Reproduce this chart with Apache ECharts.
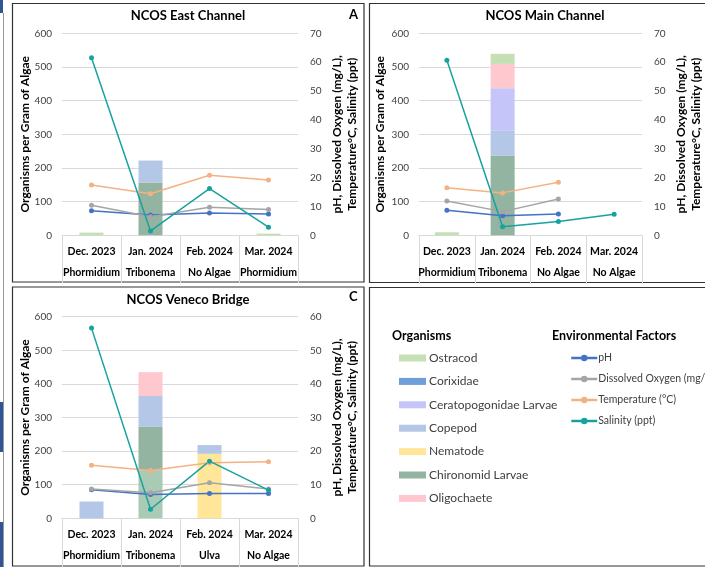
<!DOCTYPE html>
<html><head><meta charset="utf-8">
<script src="https://cdn.jsdelivr.net/npm/echarts@6/dist/echarts.min.js"></script>
<style>html,body{margin:0;padding:0;background:#fff}#c{width:705px;height:567px}</style>
</head><body><div id="c"></div>
<script>
const months = ['Dec. 2023','Jan. 2024','Feb. 2024','Mar. 2024'];
const algaeEast = ['Phormidium','Tribonema','No Algae','Phormidium'];
const algaeMain = ['Phormidium','Tribonema','No Algae','No Algae'];
const algaeVeneco = ['Phormidium','Tribonema','Ulva','No Algae'];

const leftTicks = [0,100,200,300,400,500,600];

// NCOS East Channel
const eastOstracod = [8,0,0,5];
const eastCopepod = [0,65,0,0];
const eastChironomid = [0,157,0,0];
const eastPH = [8.5,7.0,7.7,7.4];
const eastDO = [10.4,6.4,9.7,8.9];
const eastTemp = [17.4,14.4,20.8,19.2];
const eastSal = [61.5,1.5,16.2,2.8];

// NCOS Main Channel
const mainOstracod = [9,30,0,0];
const mainChironomid = [0,237,0,0];
const mainCopepod = [0,75,0,0];
const mainCerato = [0,125,0,0];
const mainOligochaete = [0,72,0,0];
const mainPH = [8.7,6.8,7.4,null];
const mainDO = [11.9,8.2,12.6,null];
const mainTemp = [16.5,14.7,18.4,null];
const mainSal = [60.7,3.0,4.8,7.3];

// NCOS Veneco Bridge
const venOstracod = [0,142,0,0];
const venNematode = [0,0,192,0];
const venChironomid = [0,130,0,0];
const venCopepod = [50,92,26,0];
const venOligochaete = [0,71,0,0];
const venPH = [8.5,7.1,7.4,7.4];
const venDO = [8.7,7.6,10.6,8.7];
const venTemp = [15.8,14.2,16.5,16.8];
const venSal = [56.6,2.7,17.0,8.4];

const organisms = ['Ostracod','Corixidae','Ceratopogonidae Larvae','Copepod','Nematode','Chironomid Larvae','Oligochaete'];
const factors = ['pH','Dissolved Oxygen (mg/L)','Temperature (°C)','Salinity (ppt)'];

const orgColor = {
  'Ostracod':'#c5e0b4','Corixidae':'#6d9fd8','Ceratopogonidae Larvae':'#c5c5fa',
  'Copepod':'#b4c7e7','Nematode':'#ffe699','Chironomid Larvae':'#93b4a0','Oligochaete':'#ffc7ce'
};
const facColor = {'pH':'#4472c4','Dissolved Oxygen (mg/L)':'#a5a5a5','Temperature (°C)':'#f4b183','Salinity (ppt)':'#17a2a0'};

const FONT = 'Lato';
const grids = [
  {left:62, top:33.3, width:236, height:202},
  {left:419, top:33.3, width:235, height:202},
  {left:62, top:316.7, width:236, height:201.6}
];
const algaeSets = [algaeEast, algaeMain, algaeVeneco];
const rightMax = [70,70,60];

const xAxes = grids.map((g,i)=>({
  type:'category', gridIndex:i, data:months,
  axisLine:{lineStyle:{color:'#d9d9d9'}},
  axisTick:{show:true, length:i===2?49:48, alignWithLabel:false, lineStyle:{color:'#d9d9d9'}},
  axisLabel:{
    margin:6, interval:0,
    formatter:(v,idx)=>'{a|'+v+'}\n{a|'+algaeSets[i][idx]+'}',
    rich:{a:{fontFamily:FONT,fontWeight:'bold',fontSize:10.5,color:'#000',lineHeight:21}}
  }
}));
const rightName = 'pH, Dissolved Oxygen (mg/L),\nTemperature°C, Salinity (ppt)';
const yAxes = [];
grids.forEach((g,i)=>{
  yAxes.push({
    type:'value', gridIndex:i, min:0, max:600, interval:100, position:'left',
    name:'Organisms per Gram of Algae', nameLocation:'middle', nameRotate:90, nameGap:i===1?33:28,
    nameTextStyle:{fontFamily:FONT,fontWeight:'bold',fontSize:12,color:'#000'},
    axisLabel:{fontFamily:FONT,fontSize:10,color:'#404040',margin:10},
    splitLine:{lineStyle:{color:'#d9d9d9'}}, axisLine:{show:false}, axisTick:{show:false}
  });
  yAxes.push({
    type:'value', gridIndex:i, min:0, max:rightMax[i], interval:10, position:'right',
    name:rightName, nameLocation:'middle', nameRotate:90, nameGap:32,
    nameTextStyle:{fontFamily:FONT,fontWeight:'bold',fontSize:12,color:'#000',lineHeight:15},
    axisLabel:{fontFamily:FONT,fontSize:10,color:'#404040',margin:12},
    splitLine:{show:false}, axisLine:{show:false}, axisTick:{show:false}
  });
});

function bar(name, data, i, color){
  return {name, type:'bar', stack:'s'+i, xAxisIndex:i, yAxisIndex:2*i, data, barWidth:24,
    itemStyle:{color: color || orgColor[name]}, emphasis:{disabled:true}};
}
function line(name, data, i){
  return {name, type:'line', xAxisIndex:i, yAxisIndex:2*i+1, data, symbol:'circle', symbolSize:5,
    lineStyle:{width:1.5,color:facColor[name]}, itemStyle:{color:facColor[name]}, emphasis:{disabled:true}, z:5};
}

const series = [
  bar('Chironomid Larvae', eastChironomid, 0), bar('Copepod', eastCopepod, 0), bar('Ostracod', eastOstracod, 0),
  bar('Corixidae', [null,null,null,null], 0), bar('Ceratopogonidae Larvae',[null,null,null,null],0),
  bar('Nematode',[null,null,null,null],0), bar('Oligochaete',[null,null,null,null],0),
  line('pH', eastPH, 0), line('Dissolved Oxygen (mg/L)', eastDO, 0), line('Temperature (°C)', eastTemp, 0), line('Salinity (ppt)', eastSal, 0),

  bar('Chironomid Larvae', mainChironomid, 1), bar('Copepod', mainCopepod, 1), bar('Ceratopogonidae Larvae', mainCerato, 1),
  bar('Oligochaete', mainOligochaete, 1), bar('Ostracod', mainOstracod, 1),
  line('pH', mainPH, 1), line('Dissolved Oxygen (mg/L)', mainDO, 1), line('Temperature (°C)', mainTemp, 1), line('Salinity (ppt)', mainSal, 1),

  bar('Ostracod', venOstracod, 2, '#a9cab4'), bar('Nematode', venNematode, 2), bar('Chironomid Larvae', venChironomid, 2),
  bar('Copepod', venCopepod, 2), bar('Oligochaete', venOligochaete, 2),
  line('pH', venPH, 2), line('Dissolved Oxygen (mg/L)', venDO, 2), line('Temperature (°C)', venTemp, 2), line('Salinity (ppt)', venSal, 2)
];

const titleStyle = {fontFamily:FONT,fontWeight:'bold',fontSize:13,color:'#000'};
const hdrStyle = {fontFamily:FONT,fontWeight:'bold',fontSize:12.5,color:'#000'};
const option = {
  animation:false,
  backgroundColor:'#fff',
  title:[
    {text:'NCOS East Channel', left:188, top:9, textAlign:'center', padding:0, textStyle:titleStyle},
    {text:'A', left:349, top:8, padding:0, textStyle:titleStyle},
    {text:'NCOS Main Channel', left:545, top:9, textAlign:'center', padding:0, textStyle:titleStyle},
    {text:'NCOS Veneco Bridge', left:188, top:293, textAlign:'center', padding:0, textStyle:titleStyle},
    {text:'C', left:349, top:290, padding:0, textStyle:titleStyle},
    {text:'Organisms', left:392, top:329, padding:0, textStyle:hdrStyle},
    {text:'Environmental Factors', left:552, top:329, padding:0, textStyle:hdrStyle}
  ],
  grid:grids,
  xAxis:xAxes,
  yAxis:yAxes,
  legend:[
    {orient:'vertical', left:399, top:351, padding:0, itemWidth:27, itemHeight:7, itemGap:9.4, icon:'rect',
     selectedMode:false,
     data:organisms.map(n=>({name:n, itemStyle:{color:orgColor[n]}})),
     textStyle:{fontFamily:FONT,fontSize:12,color:'#404040',lineHeight:14,padding:[0,0,0,-2]}},
    {orient:'vertical', left:570, top:351.5, padding:0, itemWidth:26, itemHeight:8, itemGap:8,
     selectedMode:false,
     data:factors.map(n=>({name:n, itemStyle:{color:facColor[n]}, lineStyle:{color:facColor[n],width:2.5}})),
     textStyle:{fontFamily:FONT,fontSize:10.5,color:'#404040',lineHeight:13,padding:[0,0,0,-4]}}
  ],
  graphic:[
    {type:'rect', shape:{x:12.5,y:3.5,width:351.5,height:278.5}, style:{fill:'none',stroke:'#333',lineWidth:1.2}, z:-1},
    {type:'rect', shape:{x:369.5,y:3.5,width:340,height:279}, style:{fill:'none',stroke:'#333',lineWidth:1.2}, z:-1},
    {type:'rect', shape:{x:12.5,y:287,width:351.5,height:279}, style:{fill:'none',stroke:'#333',lineWidth:1.2}, z:-1},
    {type:'rect', shape:{x:369.5,y:287.5,width:340,height:278.5}, style:{fill:'none',stroke:'#333',lineWidth:1.2}, z:-1},
    {type:'line', shape:{x1:3.5,y1:13,x2:3.5,y2:567}, style:{stroke:'#999',lineWidth:1}},
    {type:'rect', shape:{x:0,y:0,width:3,height:13}, style:{fill:'#2f5597'}},
    {type:'rect', shape:{x:0,y:402,width:3,height:50}, style:{fill:'#2f5597'}},
    {type:'rect', shape:{x:0,y:522,width:3,height:45}, style:{fill:'#2f5597'}}
  ],
  series
};
const chart = echarts.init(document.getElementById('c'), null, {renderer:'canvas'});
chart.setOption(option);
</script></body></html>
